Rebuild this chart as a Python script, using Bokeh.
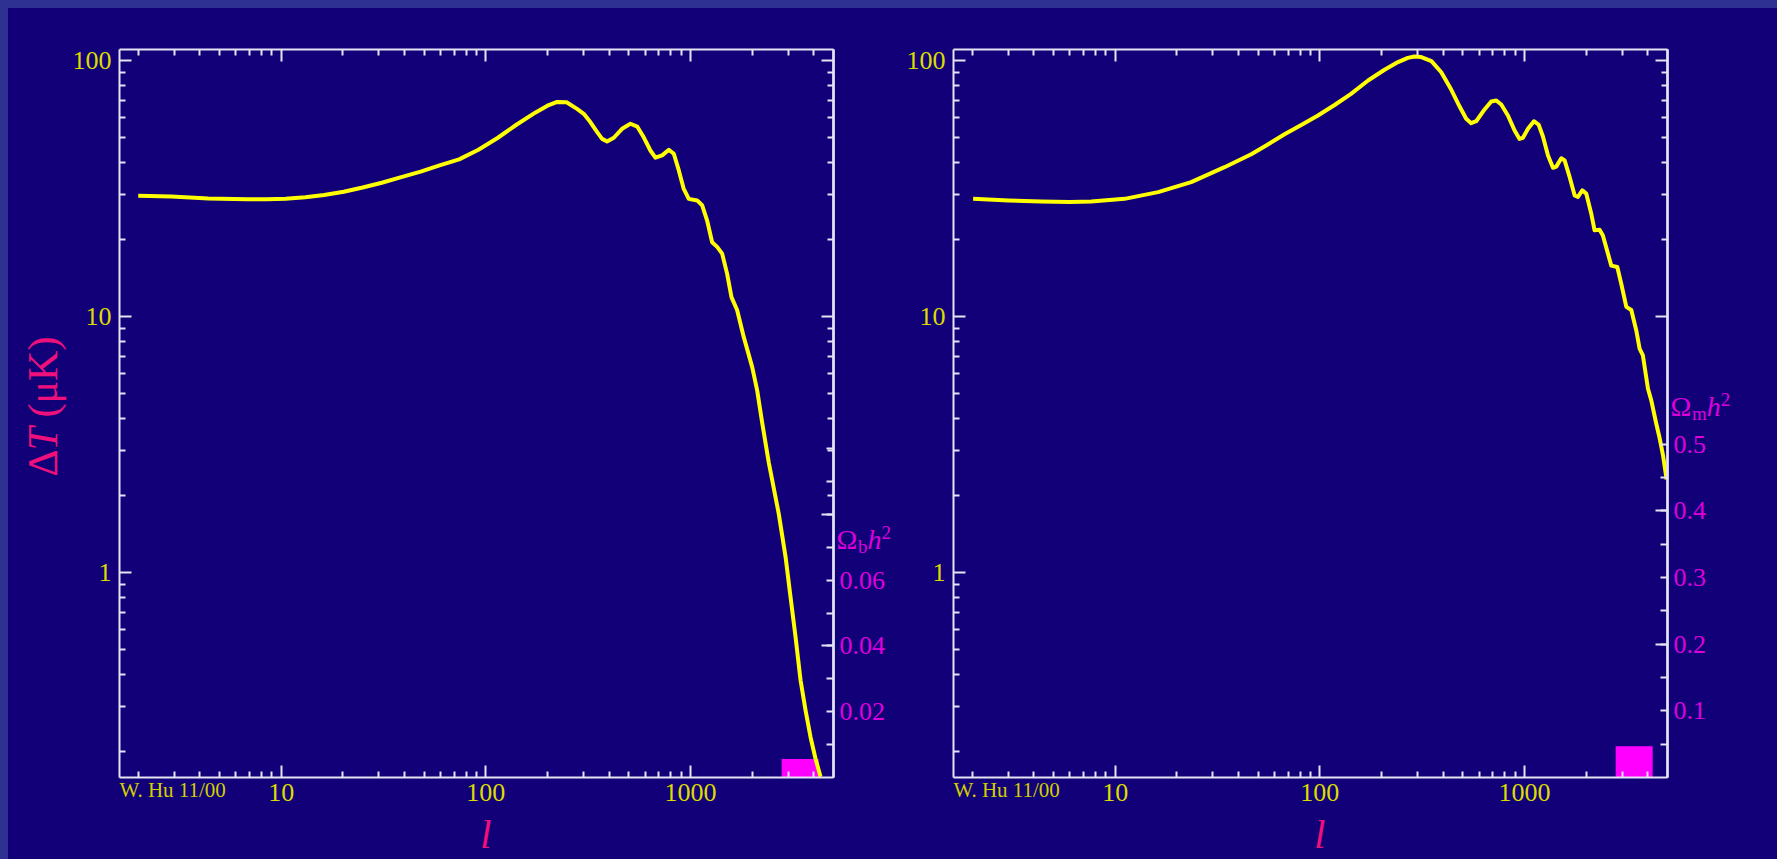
import math
from bokeh.plotting import figure
from bokeh.models import (LogAxis, LinearAxis, Range1d, FixedTicker, LinearScale,
                          PrintfTickFormatter, Label, Spacer)
from bokeh.layouts import row, column
from bokeh.embed import file_html
from bokeh.resources import INLINE

# ---------------- data ----------------
ell_baryon = [2, 2.9, 4.4, 6.8, 8.5, 10.5, 13.1, 16.2, 20.2, 25, 31, 38.6, 48,
              59.4, 74, 92, 114, 141, 175, 200, 223, 248, 279, 301, 324, 350,
              370, 391, 422, 463, 509, 549, 591, 637, 674, 727, 784, 829, 877,
              927, 981, 1078, 1140, 1206, 1276, 1350, 1428, 1510, 1586, 1690,
              1822, 2003, 2118, 2240, 2415, 2702, 2915, 3084, 3262, 3451, 3651,
              3862, 4085, 4322]
dT_baryon = [29.6, 29.4, 28.9, 28.7, 28.7, 28.8, 29.2, 29.8, 30.7, 31.9, 33.3,
             35.0, 36.8, 38.9, 41.1, 44.8, 49.8, 56.1, 62.7, 66.6, 68.9, 68.7,
             64.7, 61.9, 57.5, 52.5, 49.4, 48.3, 49.9, 54.1, 56.6, 55.2, 50.1,
             44.5, 41.7, 42.6, 44.8, 43.2, 37.2, 31.5, 28.8, 28.4, 27.2, 23.7,
             19.5, 18.7, 17.6, 14.7, 11.9, 10.6, 8.3, 6.34, 5.14, 3.85, 2.68,
             1.69, 1.15, 0.80, 0.559, 0.379, 0.289, 0.227, 0.187, 0.159]

ell_matter = [2.02, 3.0, 4.35, 6.0, 7.63, 11.1, 16.2, 23.5, 34.2, 46.2, 55.7,
              67.2, 81.1, 97.9, 118, 142, 172, 207, 241, 269, 290, 313, 351,
              392, 439, 482, 519, 549, 581, 638, 688, 728, 770, 830, 895, 946,
              983, 1040, 1112, 1172, 1231, 1303, 1378, 1430, 1513, 1571, 1663,
              1759, 1825, 1917, 2004, 2120, 2201, 2328, 2417, 2558, 2656, 2842,
              2973, 3146, 3327, 3519, 3652, 3791, 4014, 4166, 4407, 4575, 4760,
              4950]
dT_matter = [28.8, 28.4, 28.1, 28.0, 28.1, 28.8, 30.6, 33.5, 38.3, 43.0, 47.0,
             51.5, 56.0, 61.0, 67.0, 74.1, 83.5, 92.0, 98.6, 102.4, 103.7,
             103.1, 99.4, 90.0, 76.8, 66.1, 59.2, 56.9, 57.9, 64.4, 69.2, 69.8,
             67.3, 61.0, 53.3, 49.4, 49.9, 54.1, 57.9, 56.2, 50.5, 42.5, 38.1,
             38.5, 41.5, 40.7, 35.0, 29.7, 29.3, 31.1, 30.2, 25.2, 21.7, 21.8,
             20.7, 17.6, 15.8, 15.6, 13.4, 10.9, 10.6, 8.82, 7.48, 7.04, 5.22,
             4.70, 3.81, 3.35, 2.85, 2.31]

omega_b_h2 = [0.0056]      # magenta marker height, left panel
omega_m_h2 = [0.047]       # magenta marker height, right panel

x_tick_labels = [10, 100, 1000]
y_tick_labels = [1, 10, 100]
omega_b_ticks = [0.02, 0.04, 0.06]
omega_m_ticks = [0.1, 0.2, 0.3, 0.4, 0.5]

# ---------------- style ----------------
BG = "#120078"
STRIP = "#2E3192"
AXIS = "#E4E4F2"
TICKTXT = "#DCDC00"
CURVE = "#FFFF00"
PINK = "#F0107C"
MAGTXT = "#DD00DD"
MAG = "#FF00FF"
FONT = "Liberation Serif"

# plot-box data limits
X0, X1 = 1.62, 5000.0
Y0, Y1 = 0.158, 110.4
MARK_L, MARK_R = 2790, 4230
FIG_H = 851
B_TOP, B_BOT = 41, 82

x_minor = [m * 10 ** k for k in range(0, 4) for m in range(2, 10) if m * 10 ** k < X1]
y_minor = [m * 10 ** k for k in range(-1, 2) for m in range(2, 10)]


def log_extend(lo, hi, px_len, before, after):
    d = math.log10(hi / lo) / px_len
    return lo * 10 ** (-before * d), hi * 10 ** (after * d)


def style_axis(ax, labels=True):
    ax.axis_line_color = AXIS
    ax.axis_line_width = 2
    ax.major_tick_line_color = AXIS
    ax.minor_tick_line_color = AXIS
    ax.major_tick_line_width = 2
    ax.minor_tick_line_width = 2
    ax.major_tick_out = 0
    ax.minor_tick_out = 0
    ax.major_tick_in = 12
    ax.minor_tick_in = 6
    if labels:
        ax.major_label_text_font = FONT
        ax.major_label_text_font_size = "26px"
        ax.major_label_text_color = TICKTXT
    else:
        ax.major_label_text_color = None
        ax.major_label_text_font_size = "0px"
        ax.major_label_standoff = 0


def add_label(p, **kw):
    base = dict(text_font=FONT, text_align="left", text_baseline="alphabetic")
    base.update(kw)
    p.add_layout(Label(**base))


def make_panel(ells, dts, omega_val, omega_end, o_major, o_minor, o_long, o_fmt,
               o_sub, o_title_y, right_log_minor, width, bl, br, ylabel):
    box_w = width - bl - br
    box_h = FIG_H - B_TOP - B_BOT
    xr = log_extend(X0, X1, box_w, bl, br)
    yr = log_extend(Y0, Y1, box_h, B_BOT, B_TOP)
    opx = omega_end / box_h
    p = figure(width=width, height=FIG_H, x_axis_type="log", y_axis_type="log",
               x_range=Range1d(*xr), y_range=Range1d(*yr),
               output_backend="svg", toolbar_location=None, min_border=0,
               background_fill_color=BG, border_fill_color=BG,
               outline_line_color=None)
    p.grid.visible = False
    p.extra_y_ranges = {"om": Range1d(-B_BOT * opx, omega_end + B_TOP * opx)}
    p.extra_y_scales = {"om": LinearScale()}

    xa = p.xaxis[0]
    xa.ticker = FixedTicker(ticks=x_tick_labels, minor_ticks=x_minor)
    xa.formatter = PrintfTickFormatter(format="%d")
    xa.fixed_location = Y0
    xa.bounds = (X0, X1)
    style_axis(xa)
    xa.major_label_standoff = 6

    ya = p.yaxis[0]
    ya.ticker = FixedTicker(ticks=y_tick_labels, minor_ticks=y_minor)
    ya.formatter = PrintfTickFormatter(format="%d")
    ya.fixed_location = X0
    ya.bounds = (Y0, Y1)
    style_axis(ya)
    ya.major_label_standoff = 8

    top = LogAxis(ticker=FixedTicker(ticks=x_tick_labels, minor_ticks=x_minor),
                  fixed_location=Y1, bounds=(X0, X1))
    style_axis(top, labels=False)
    p.add_layout(top, "above")

    rlog = LogAxis(ticker=FixedTicker(ticks=[10, 100], minor_ticks=right_log_minor),
                   fixed_location=X1, bounds=(Y0, Y1))
    style_axis(rlog, labels=False)
    p.add_layout(rlog, "right")

    rlong = LinearAxis(y_range_name="om", ticker=FixedTicker(ticks=o_long, minor_ticks=[]),
                       fixed_location=X1, bounds=(0, omega_end))
    style_axis(rlong, labels=False)
    p.add_layout(rlong, "right")

    rom = LinearAxis(y_range_name="om", ticker=FixedTicker(ticks=o_major, minor_ticks=o_minor),
                     formatter=PrintfTickFormatter(format=o_fmt),
                     fixed_location=X1, bounds=(0, omega_end))
    style_axis(rom)
    rom.major_tick_in = 7
    rom.minor_tick_in = 7
    rom.major_label_text_color = MAGTXT
    rom.major_label_standoff = 6
    p.add_layout(rom, "right")

    p.quad(left=[MARK_L], right=[MARK_R], bottom=[0], top=omega_val,
           y_range_name="om", fill_color=MAG, line_color=None)
    p.line(ells, dts, line_color=CURVE, line_width=4, line_join="round")

    # credit and x label
    add_label(p, x=X0, y=Y0, y_offset=-12, text="W. Hu 11/00",
              text_font_size="21px", text_color="#D0D000")
    add_label(p, x=100, y=Y0, y_offset=-57, text="l", text_align="center",
              text_font_style="italic", text_font_size="40px", text_color=PINK)

    # Omega title: Omega_x h^2
    sub_w = 9.5 if o_sub == "b" else 14.8
    add_label(p, x=X1, y=o_title_y, y_range_name="om", x_offset=3, y_offset=8,
              text="\u03a9", text_font_size="28px", text_color=MAGTXT)
    add_label(p, x=X1, y=o_title_y, y_range_name="om", x_offset=24.5, y_offset=1,
              text=o_sub, text_font_size="19px", text_color=MAGTXT)
    add_label(p, x=X1, y=o_title_y, y_range_name="om", x_offset=24.5 + sub_w, y_offset=8,
              text="h", text_font_style="italic", text_font_size="28px", text_color=MAGTXT)
    add_label(p, x=X1, y=o_title_y, y_range_name="om", x_offset=24.5 + sub_w + 14,
              y_offset=15, text="2", text_font_size="19px", text_color=MAGTXT)

    if ylabel:
        ang = 1.5707963
        xo = -77
        add_label(p, x=X0, y=1, x_offset=xo, y_offset=96, angle=ang, text="\u0394",
                  text_font_size="42px", text_color=PINK)
        add_label(p, x=X0, y=1, x_offset=xo, y_offset=96 + 26, angle=ang, text="T",
                  text_font_style="italic", text_font_size="42px", text_color=PINK)
        add_label(p, x=X0, y=1, x_offset=xo, y_offset=96 + 59, angle=ang,
                  text="(\u03bcK)", text_font_size="42px", text_color=PINK)
    return p


left_log_minor = [m for m in range(2, 10)] + [m * 10 for m in range(2, 10)]
right_log_minor = [m * 10 for m in range(2, 10)]

p1 = make_panel(ell_baryon, dT_baryon, omega_b_h2, 0.2213, omega_b_ticks,
                [0.01, 0.03, 0.05, 0.07, 0.08, 0.09, 0.10], [0.04, 0.08], "%.2f",
                "b", 0.07, left_log_minor, 885, 111, 60, True)
p2 = make_panel(ell_matter, dT_matter, omega_m_h2, 1.0915, omega_m_ticks,
                [0.05, 0.15, 0.25, 0.35, 0.45], [0.2, 0.4], "%.1f",
                "m", 0.545, right_log_minor, 884, 60, 110, False)

layout = column(
    Spacer(width=1777, height=8, styles={"background-color": STRIP}),
    row(Spacer(width=8, height=FIG_H, styles={"background-color": STRIP}), p1, p2,
        styles={"background-color": BG}),
    styles={"background-color": BG},
)

open("out.html", "w").write(file_html(layout, INLINE))
